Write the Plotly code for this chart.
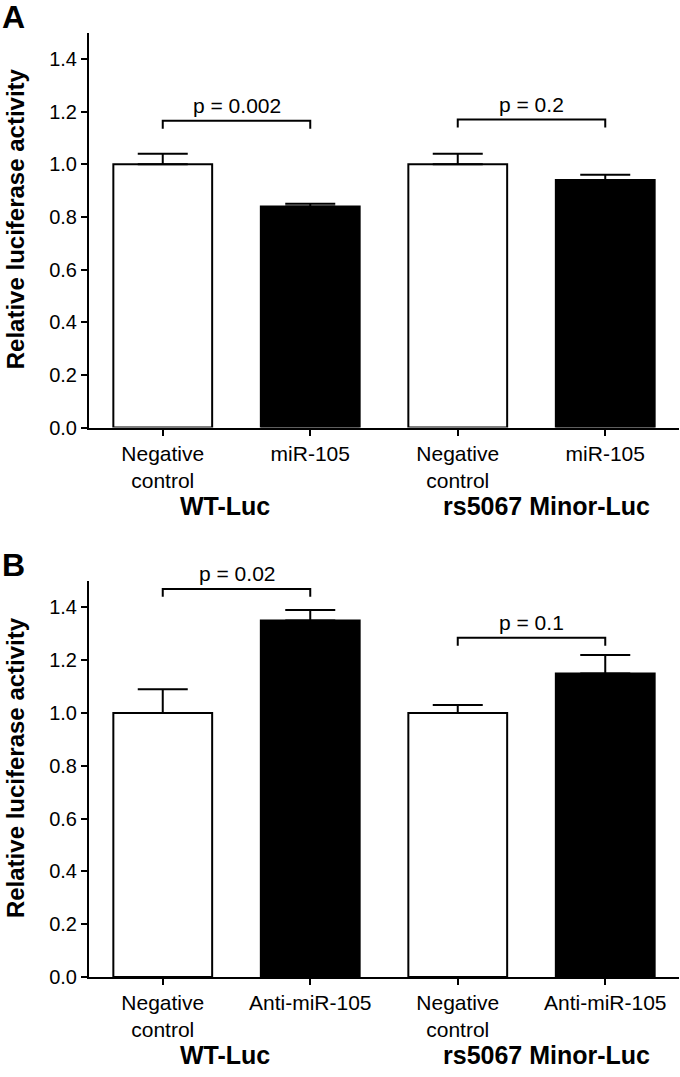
import plotly.graph_objects as go

# ---- data ----
positions = [0, 1, 2, 3]
labels_A = ["Negative<br>control", "miR-105", "Negative<br>control", "miR-105"]
labels_B = ["Negative<br>control", "Anti-miR-105", "Negative<br>control", "Anti-miR-105"]
means_A = [1.00, 0.84, 1.00, 0.94]
errs_A = [0.04, 0.01, 0.04, 0.02]
means_B = [1.00, 1.35, 1.00, 1.15]
errs_B = [0.09, 0.04, 0.03, 0.07]
bar_colors = ["white", "black", "white", "black"]
groups = ["WT-Luc", "rs5067 Minor-Luc"]
group_x = [0.42, 2.6]
pairs = [(0, 1), (2, 3)]
p_text_A = ["p = 0.002", "p = 0.2"]
bracket_y_A = [1.165, 1.17]
p_text_B = ["p = 0.02", "p = 0.1"]
bracket_y_B = [1.47, 1.285]
yticks = [0.0, 0.2, 0.4, 0.6, 0.8, 1.0, 1.2, 1.4]
y_max = 1.5

W, H = 680, 1077
FONT = "Liberation Sans, Arial, Helvetica, sans-serif"


def py(px):
    return 1 - px / H


fig = go.Figure()

panels = [
    dict(xa="x", ya="y", means=means_A, errs=errs_A, labels=labels_A, ptext=p_text_A,
         by=bracket_y_A, top=33, bot=432, letter="A", letter_y=17),
    dict(xa="x2", ya="y2", means=means_B, errs=errs_B, labels=labels_B, ptext=p_text_B,
         by=bracket_y_B, top=587, bot=987, letter="B", letter_y=571),
]

annotations = []
for i, p in enumerate(panels):
    fig.add_trace(go.Bar(
        x=positions, y=p["means"], xaxis=p["xa"], yaxis=p["ya"],
        width=0.67,
        marker=dict(color=bar_colors, line=dict(color="black", width=2)),
        error_y=dict(type="data", array=p["errs"], arrayminus=[0] * 4, symmetric=False,
                     color="black", thickness=2, width=25),
        showlegend=False, hoverinfo="skip",
    ))
    for (a, b), yb, txt in zip(pairs, p["by"], p["ptext"]):
        fig.add_trace(go.Scatter(
            x=[a, a, b, b], y=[yb - 0.03, yb, yb, yb - 0.03], xaxis=p["xa"], yaxis=p["ya"],
            mode="lines", line=dict(color="black", width=2), showlegend=False,
            hoverinfo="skip", cliponaxis=False,
        ))
        annotations.append(dict(
            x=(a + b) / 2, y=(yb + 0.058) / y_max, xref=p["xa"], yref=p["ya"] + " domain",
            text=txt, showarrow=False, font=dict(size=21, color="black", family=FONT),
            xanchor="center", yanchor="middle",
        ))
    for g, gx in zip(groups, group_x):
        annotations.append(dict(
            x=gx, y=py(p["bot"] + 79), xref=p["xa"], yref="paper", text="<b>%s</b>" % g,
            showarrow=False, font=dict(size=25, color="black", family=FONT),
            xanchor="center", yanchor="middle",
        ))
    annotations.append(dict(
        x=15 / W, y=py((p["top"] + p["bot"]) / 2 - 11), xref="paper", yref="paper",
        text="<b>Relative luciferase activity</b>", textangle=-90, showarrow=False,
        font=dict(size=24, color="black", family=FONT), xanchor="center", yanchor="middle",
    ))
    annotations.append(dict(
        x=0, y=py(p["letter_y"]), xref="paper", yref="paper", text="<b>%s</b>" % p["letter"],
        showarrow=False, font=dict(size=32, color="black", family=FONT),
        xanchor="left", yanchor="middle",
    ))

axis_common = dict(showline=True, linecolor="black", linewidth=2, ticks="outside",
                   ticklen=6, tickwidth=2, tickcolor="black", showgrid=False, zeroline=False)
xfont = dict(size=21, color="black", family=FONT)
yfont = dict(size=20, color="black", family=FONT)

xd = [89 / W, 679 / W]
fig.update_layout(
    autosize=True, margin=dict(l=0, r=0, t=0, b=0),
    paper_bgcolor="white", plot_bgcolor="white",
    xaxis=dict(domain=xd, range=[-0.5, 3.5], tickvals=positions, ticktext=labels_A,
               anchor="y", tickfont=xfont, **axis_common),
    yaxis=dict(domain=[py(432), py(33)], range=[0, y_max], tickvals=yticks,
               tickformat=".1f", anchor="x", tickfont=yfont, **axis_common),
    xaxis2=dict(domain=xd, range=[-0.5, 3.5], tickvals=positions, ticktext=labels_B,
                anchor="y2", tickfont=xfont, **axis_common),
    yaxis2=dict(domain=[py(987), py(587)], range=[0, y_max], tickvals=yticks,
                tickformat=".1f", anchor="x2", tickfont=yfont, **axis_common),
    annotations=annotations,
)

css_js = (
    "var s=document.createElement('style');"
    "s.textContent='html,body{margin:0;padding:0;overflow:hidden;}';"
    "document.head.appendChild(s);"
    "window.dispatchEvent(new Event('resize'));"
)
fig.write_html("out.html", config={"displayModeBar": False, "responsive": True},
               default_width="100vw", default_height="100vh", post_script=css_js)
